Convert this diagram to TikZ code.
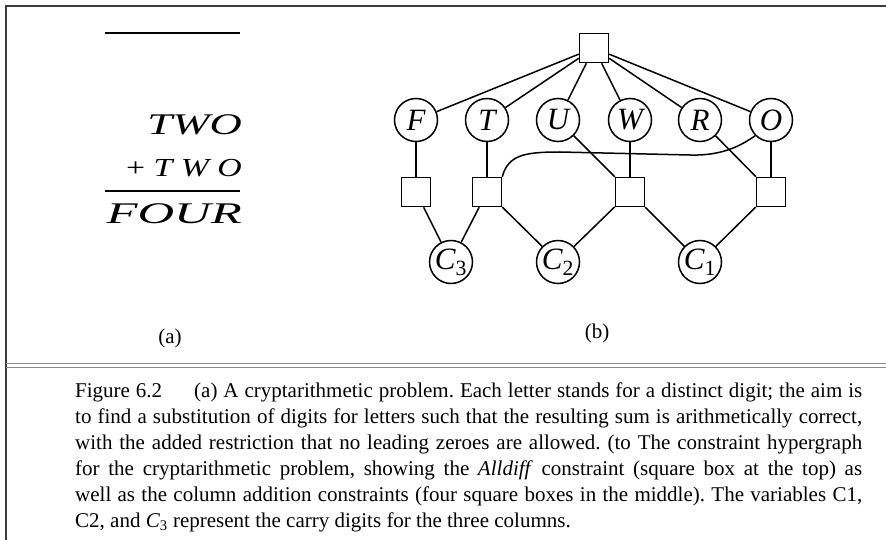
\documentclass[tikz,border=0pt]{standalone}
\usepackage{fontspec}
\setmainfont{Liberation Serif}
\usetikzlibrary{positioning}
\definecolor{framegray}{HTML}{3C3C3C}
\definecolor{rulegray}{HTML}{8C8C8C}

\begin{document}
\begin{tikzpicture}[x=1pt, y=-1pt,
        var/.style={circle, draw, line width=1.5pt, minimum size=43pt, inner sep=0pt,
          font=\fontsize{31}{31}\selectfont\itshape},
        con/.style={rectangle, draw, line width=1.5pt, minimum size=29pt, inner sep=0pt},
        edge/.style={draw, line width=1.5pt},
        sumline/.style={anchor=base east, inner sep=0pt, font=\itshape},
        sublabel/.style={font=\fontsize{21}{21}\selectfont}]
        \useasboundingbox (0,0) rectangle (886,540);
        % frame and rules
        \draw[framegray, line width=1.6pt] (6,540) -- (6,6) -- (886,6);
        \draw[rulegray, line width=1.2pt] (6,363.5) -- (886,363.5);
        \draw[rulegray, line width=1.2pt] (6,367.5) -- (886,367.5);

        % (a) the sum
        \draw[line width=1.4pt] (105,33) -- (240,33);
        \node[sumline, font=\fontsize{30}{30}\selectfont\itshape] (two) at (242,135) {\scalebox{1.49}[1]{TWO}};
        \node[sumline, font=\fontsize{26}{26}\selectfont\itshape] (plustwo) at (242,177) {\scalebox{1.3}[1]{\upshape+ \itshape T W O}};
        \draw[line width=1.4pt] (105,191) -- (240,191);
        \node[sumline, font=\fontsize{30}{30}\selectfont\itshape] (four) at (242,223) {\scalebox{1.69}[1]{FOUR}};
        \node[sublabel] (labela) at (170,338) {(a)};

        % (b) the hypergraph
        \node[con] (alldiff) at (594,48) {};
        \node[var] (f) at (416,120) {F};
        \node[var] (t) at (487,120) {T};
        \node[var] (u) at (558,120) {U};
        \node[var] (w) at (630,120) {W};
        \node[var] (r) at (700,120) {R};
        \node[var] (o) at (771,120) {O};
        \node[con] (fbox) at (416,192) {};
        \node[con] (tbox) at (487,192) {};
        \node[con] (wbox) at (630,192) {};
        \node[con] (obox) at (771,192) {};
        \node[var] (c3) at (451,262) {C\textsubscript{\upshape 3}};
        \node[var] (c2) at (558,262) {C\textsubscript{\upshape 2}};
        \node[var] (c1) at (700,262) {C\textsubscript{\upshape 1}};
        \node[sublabel] (labelb) at (597,333) {(b)};

        \draw[edge] (alldiff) -- (f);
        \draw[edge] (alldiff) -- (t);
        \draw[edge] (alldiff) -- (u);
        \draw[edge] (alldiff) -- (w);
        \draw[edge] (alldiff) -- (r);
        \draw[edge] (alldiff) -- (o);
        \draw[edge] (f) -- (fbox);
        \draw[edge] (t) -- (tbox);
        \draw[edge] (w) -- (wbox);
        \draw[edge] (o) -- (obox);
        \draw[edge] (u) -- (wbox);
        \draw[edge] (r) -- (obox);
        \draw[edge] (tbox.north east) .. controls +(6,-22) and +(-35,0) .. (560,152)
          -- (690,155) .. controls +(35,1) and +(-12,8) .. (o.225);
        \draw[edge] (fbox) -- (c3);
        \draw[edge] (tbox) -- (c3);
        \draw[edge] (tbox) -- (c2);
        \draw[edge] (wbox) -- (c2);
        \draw[edge] (wbox) -- (c1);
        \draw[edge] (obox) -- (c1);

        % caption
        \node[anchor=base west, text width=787pt, align=justify, inner sep=0pt,
          font=\fontsize{21}{26}\selectfont\frenchspacing] (caption) at (75,397)
          {Figure 6.2\hspace{32pt}(a) A cryptarithmetic problem. Each letter stands for a distinct digit; the aim is\linebreak
           to find a substitution of digits for letters such that the resulting sum is arithmetically correct,\linebreak
           with the added restriction that no leading zeroes are allowed. (to The constraint hypergraph\linebreak
           for the cryptarithmetic problem, showing the \textit{Alldiff} constraint (square box at the top) as\linebreak
           well as the column addition constraints (four square boxes in the middle). The variables C1,\linebreak
           C2, and \textit{C}\textsubscript{3} represent the carry digits for the three columns.};
      \end{tikzpicture}
\end{document}
